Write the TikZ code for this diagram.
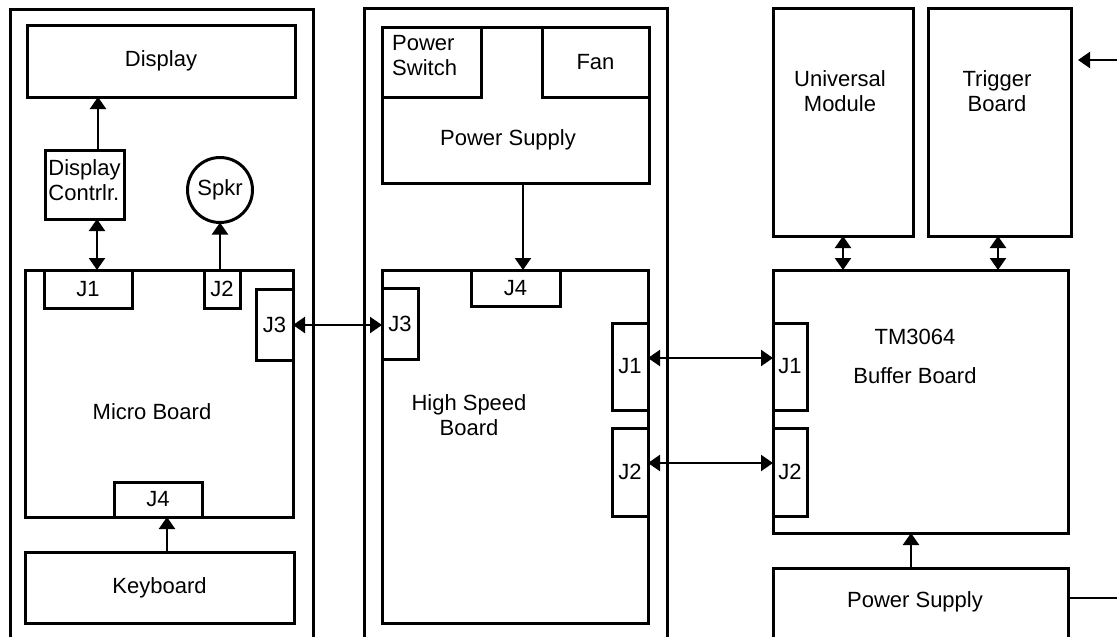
\documentclass[tikz,border=0pt]{standalone}
\usepackage{fontspec}
\setmainfont{Liberation Sans}
\usetikzlibrary{arrows.meta,calc}
\begin{document}
\begin{tikzpicture}[x=1pt,y=-1pt,
  box/.style={draw,line width=3pt,rectangle,inner sep=0pt,outer sep=0pt,fill=white},
  lbl/.style={inner sep=0pt,align=center,font=\fontsize{22}{25}\selectfont},
  arr/.style={line width=2.2pt,-{Triangle[width=16pt,length=12pt]}},
  darr/.style={line width=2.2pt,{Triangle[width=16pt,length=12pt]}-{Triangle[width=16pt,length=12pt]}},
  plain/.style={line width=2.2pt}]
\useasboundingbox (0,0) rectangle (1117,637);
\clip (0,0) rectangle (1117,637);
% outer panels
\node[box,minimum width=303pt,minimum height=651pt] (leftp) at (161.5,334.5) {};
\node[box,minimum width=303pt,minimum height=652pt] (midp) at (515.5,334) {};
% left panel contents
\node[box,minimum width=268pt,minimum height=72pt,lbl] (disp) at (161,61) {Display};
\node[box,minimum width=79pt,minimum height=69pt] (dispc) at (84.5,184.5) {};
\node[lbl,align=left] (dispct) at (84.5,180) {Display\\Contrlr.};
\node[draw,line width=3pt,circle,minimum size=65pt,inner sep=0pt,outer sep=0pt,lbl] (spkr) at (220,190) {Spkr};
\node[box,minimum width=268pt,minimum height=247pt] (micro) at (159,393.5) {};
\node[lbl] (microt) at (152,412) {Micro Board};
\node[box,minimum width=88pt,minimum height=38pt,lbl] (mj1) at (88,289) {J1};
\node[box,minimum width=36pt,minimum height=38pt,lbl] (mj2) at (222,289) {J2};
\node[box,minimum width=37pt,minimum height=71pt,lbl] (mj3) at (274.5,324.5) {J3};
\node[box,minimum width=88pt,minimum height=35pt,lbl] (mj4) at (158,499.5) {J4};
\node[box,minimum width=269pt,minimum height=71pt,lbl] (kbd) at (159.5,587.5) {Keyboard};
% middle panel contents
\node[box,minimum width=267pt,minimum height=156pt] (ps) at (515.5,105) {};
\node[lbl] (pst) at (508,140) {Power Supply};
\node[box,minimum width=99pt,minimum height=70pt] (psw) at (431.5,62) {};
\node[lbl,align=left,anchor=west] (pswt) at (392,56) {Power\\Switch};
\node[box,minimum width=107pt,minimum height=70pt,lbl] (fan) at (595.5,62) {Fan};
\node[box,minimum width=266pt,minimum height=353pt] (hsb) at (515,446.5) {};
\node[lbl] (hsbt) at (469,415) {High Speed\\Board};
\node[box,minimum width=89pt,minimum height=36pt,lbl] (hj4) at (515.5,288) {J4};
\node[box,minimum width=36pt,minimum height=71pt,lbl] (hj3) at (400,323.5) {J3};
\node[box,minimum width=36pt,minimum height=87pt,lbl] (hj1) at (630,366.5) {J1};
\node[box,minimum width=36pt,minimum height=88pt,lbl] (hj2) at (630,472) {J2};
% right side
\node[box,minimum width=140pt,minimum height=228pt] (um) at (843,122) {};
\node[lbl] (umt) at (840,91) {Universal\\Module};
\node[box,minimum width=143pt,minimum height=228pt] (tb) at (999.5,122) {};
\node[lbl] (tbt) at (997,91) {Trigger\\Board};
\node[box,minimum width=295pt,minimum height=263pt] (bb) at (920.5,401.5) {};
\node[lbl] (bbt1) at (915,337) {TM3064};
\node[lbl] (bbt2) at (915,376) {Buffer Board};
\node[box,minimum width=34pt,minimum height=87pt,lbl] (bj1) at (790,366.5) {J1};
\node[box,minimum width=34pt,minimum height=88pt,lbl] (bj2) at (790,472) {J2};
\node[box,minimum width=295pt,minimum height=92pt] (rps) at (920.5,614) {};
\node[lbl] (rpst) at (915,602) {Power Supply};
\coordinate (trigin) at (1117,60);
\coordinate (trigtip) at (1078,60);
\coordinate (psout) at (1117,598);
% connectors
\draw[arr] (dispc.north -| 98,0) -- (disp.south -| 98,0);
\draw[darr] (dispc.south -| 97,0) -- (micro.north -| 97,0);
\draw[arr] (mj2.north -| spkr.south) -- (spkr.south);
\draw[arr] (kbd.north -| 167,0) -- (micro.south -| 167,0);
\draw[darr] (mj3.east |- 0,325) -- (hj3.west |- 0,325);
\draw[arr] (ps.south -| 523,0) -- (hsb.north -| 523,0);
\draw[darr] (hj1.east |- 0,358) -- (bj1.west |- 0,358);
\draw[darr] (hj2.east |- 0,463) -- (bj2.west |- 0,463);
\draw[darr] (um.south -| 843,0) -- (bb.north -| 843,0);
\draw[darr] (tb.south -| 998,0) -- (bb.north -| 998,0);
\draw[arr] (rps.north -| 911,0) -- (bb.south -| 911,0);
\draw[plain] (rps.east |- psout) -- (psout);
\draw[arr] (trigin) -- (trigtip);
\end{tikzpicture}
\end{document}
